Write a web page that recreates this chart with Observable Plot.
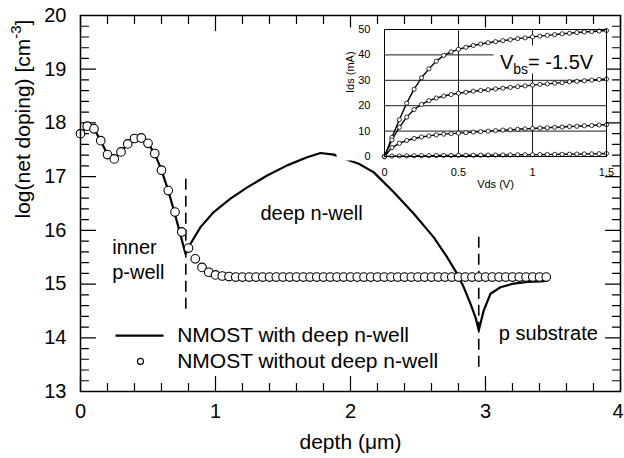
<!DOCTYPE html>
<html><head><meta charset="utf-8">
<script src="https://cdn.jsdelivr.net/npm/d3@7"></script>
<script src="https://cdn.jsdelivr.net/npm/@observablehq/plot@0.6"></script>
<style>
body{margin:0;background:#fff;}
#wrap{position:relative;width:624px;height:458px;overflow:hidden;}
#inset{position:absolute;left:336px;top:17px;}
</style></head><body><div id="wrap"></div>
<script>
// ---- main chart data ----
const depthWith = [0, 0.05, 0.1, 0.15, 0.2, 0.25, 0.3, 0.35, 0.4, 0.45, 0.5, 0.55, 0.6, 0.65, 0.7, 0.74, 0.778, 0.815, 0.889, 0.987, 1.111, 1.235, 1.383, 1.531, 1.679, 1.778, 1.876, 1.96, 2.061, 2.173, 2.321, 2.469, 2.617, 2.716, 2.79, 2.839, 2.889, 2.926, 2.95, 2.987, 3.037, 3.111, 3.21, 3.309, 3.407, 3.45];
const dopingWith = [17.80, 17.94, 17.89, 17.67, 17.41, 17.33, 17.46, 17.61, 17.71, 17.72, 17.62, 17.43, 17.12, 16.74, 16.30, 15.92, 15.56, 15.75, 16.06, 16.34, 16.59, 16.80, 17.02, 17.21, 17.36, 17.44, 17.41, 17.33, 17.24, 17.08, 16.71, 16.31, 15.87, 15.50, 15.19, 14.94, 14.63, 14.38, 14.14, 14.51, 14.82, 14.94, 15.01, 15.04, 15.05, 15.06];
const depthWithout = [0, 0.05, 0.1, 0.15, 0.2, 0.25, 0.3, 0.35, 0.4, 0.45, 0.5, 0.55, 0.6, 0.65, 0.7, 0.75, 0.8, 0.85, 0.9, 0.95, 1, 1.05, 1.1, 1.15, 1.2, 1.25, 1.3, 1.35, 1.4, 1.45, 1.5, 1.55, 1.6, 1.65, 1.7, 1.75, 1.8, 1.85, 1.9, 1.95, 2, 2.05, 2.1, 2.15, 2.2, 2.25, 2.3, 2.35, 2.4, 2.45, 2.5, 2.55, 2.6, 2.65, 2.7, 2.75, 2.8, 2.85, 2.9, 2.95, 3, 3.05, 3.1, 3.15, 3.2, 3.25, 3.3, 3.35, 3.4, 3.45];
const dopingWithout = [17.80, 17.94, 17.89, 17.67, 17.41, 17.33, 17.46, 17.61, 17.71, 17.72, 17.62, 17.43, 17.12, 16.74, 16.34, 15.97, 15.67, 15.47, 15.31, 15.22, 15.17, 15.15, 15.14, 15.13, 15.13, 15.13, 15.13, 15.13, 15.13, 15.13, 15.13, 15.13, 15.13, 15.13, 15.13, 15.13, 15.13, 15.13, 15.13, 15.13, 15.13, 15.13, 15.13, 15.13, 15.13, 15.13, 15.13, 15.13, 15.13, 15.13, 15.13, 15.13, 15.13, 15.13, 15.13, 15.13, 15.13, 15.13, 15.13, 15.13, 15.13, 15.13, 15.13, 15.13, 15.13, 15.13, 15.13, 15.13, 15.13, 15.13];
const junctionDepth = [0.78, 2.95];
const junctionLow = [14.53, 13.45];
const junctionHigh = [17.05, 15.9];
const xMajor = [0, 1, 2, 3];
const xLast = [4];
const xMinor = [0.2, 0.4, 0.6, 0.8, 1.2, 1.4, 1.6, 1.8, 2.2, 2.4, 2.6, 2.8, 3.2, 3.4, 3.6, 3.8];
const yMajor = [13, 14, 15, 16, 17, 18, 19, 20];
const yMinor = [13.2, 13.4, 13.6, 13.8, 14.2, 14.4, 14.6, 14.8, 15.2, 15.4, 15.6, 15.8, 16.2, 16.4, 16.6, 16.8, 17.2, 17.4, 17.6, 17.8, 18.2, 18.4, 18.6, 18.8, 19.2, 19.4, 19.6, 19.8];
const legendLabels = ["NMOST with deep n-well", "NMOST without deep n-well"];
const xLabel = "depth (\u03bcm)";
const yLabel = "log(net doping) [cm-3]";

// ---- inset data ----
const vds = [0, 0.05, 0.1, 0.15, 0.2, 0.25, 0.3, 0.35, 0.4, 0.45, 0.5, 0.55, 0.6, 0.65, 0.7, 0.75, 0.8, 0.85, 0.9, 0.95, 1, 1.05, 1.1, 1.15, 1.2, 1.25, 1.3, 1.35, 1.4, 1.45, 1.5];
const ids1 = [0, 7.5, 14.5, 21, 26.5, 31, 34.5, 37.5, 39.8, 41.2, 42.2, 43, 43.7, 44.3, 44.8, 45.2, 45.6, 46, 46.4, 46.7, 47.1, 47.4, 47.7, 48, 48.3, 48.5, 48.8, 49, 49.2, 49.4, 49.6];
const ids2 = [0, 6.5, 11.5, 15.5, 18.5, 20.5, 22, 23, 23.8, 24.4, 24.9, 25.3, 25.7, 26, 26.3, 26.6, 26.9, 27.2, 27.5, 27.8, 28.1, 28.4, 28.6, 28.9, 29.1, 29.4, 29.6, 29.8, 30.1, 30.3, 30.5];
const ids3 = [0, 3.5, 5.2, 6.3, 7.1, 7.7, 8.1, 8.5, 8.8, 9.0, 9.2, 9.4, 9.6, 9.8, 10.0, 10.2, 10.4, 10.5, 10.7, 10.9, 11.0, 11.2, 11.3, 11.5, 11.6, 11.8, 11.9, 12.1, 12.2, 12.4, 12.5];
const ids4 = [0, 0.15, 0.2, 0.25, 0.3, 0.32, 0.35, 0.38, 0.4, 0.42, 0.45, 0.48, 0.5, 0.52, 0.55, 0.58, 0.6, 0.63, 0.66, 0.69, 0.72, 0.75, 0.78, 0.82, 0.86, 0.9, 0.95, 1.0, 1.05, 1.1, 1.2];
const insetXTicks = [0, 0.5, 1, 1.5];
const insetYTicks = [0, 10, 20, 30, 40, 50];
const insetGridX = [0.5, 1];
const insetGridY = [10, 20, 30, 40];
const insetXLabel = "Vds (V)";
const insetYLabel = "Ids (mA)";
const biasLabel = "Vbs= -1.5V";

const font = '"Liberation Sans", Arial, Helvetica, sans-serif';
const fmt = d => String(d);
const xDomain = [0, 4], yDomain = [13, 20];

const withRows = depthWith.map((d, i) => ({depth: d, doping: dopingWith[i]}));
const withoutRows = depthWithout.map((d, i) => ({depth: d, doping: dopingWithout[i]}));
const junctionRows = junctionDepth.map((d, i) => ({depth: d, lo: junctionLow[i], hi: junctionHigh[i]}));
const xTicksAll = xMajor.concat(xLast);

// a plain straight stroke as vector shape (no arrow head)
const stick = {draw(context, l) { context.moveTo(0, 0); context.lineTo(0, -l); }};

// inward ticks drawn as vectors anchored on each side of the frame
function sideTicks(ticksX, ticksY, size) {
  const s = {stroke: "black", strokeWidth: 1.2, length: size, anchor: "start", shape: stick};
  return [
    Plot.vector(ticksX, {x: d => d, y: () => yDomain[0], rotate: 0, ...s}),
    Plot.vector(ticksX, {x: d => d, y: () => yDomain[1], rotate: 180, ...s}),
    Plot.vector(ticksY, {y: d => d, x: () => xDomain[0], rotate: 90, ...s}),
    Plot.vector(ticksY, {y: d => d, x: () => xDomain[1], rotate: 270, ...s})
  ];
}

const main = Plot.plot({
  width: 624, height: 458,
  marginLeft: 80, marginRight: 4, marginTop: 15, marginBottom: 67,
  x: {domain: xDomain, axis: null},
  y: {domain: yDomain, axis: null},
  style: {fontFamily: font, fontSize: "20px", background: "white", color: "black"},
  marks: [
    ...sideTicks(xMinor, yMinor, 8),
    ...sideTicks(xTicksAll, yMajor, 15),
    Plot.ruleX(junctionRows, {x: "depth", y1: "lo", y2: "hi", stroke: "black", strokeWidth: 1.6, strokeDasharray: "11,6"}),
    Plot.line(withRows, {x: "depth", y: "doping", stroke: "black", strokeWidth: 2.2}),
    Plot.dot(withoutRows, {x: "depth", y: "doping", r: 4.3, fill: "white", stroke: "black", strokeWidth: 1.1}),
    Plot.text(["inner"], {x: 0.235, y: 15.68, textAnchor: "start", fontSize: 20}),
    Plot.text(["p-well"], {x: 0.235, y: 15.22, textAnchor: "start", fontSize: 20}),
    Plot.text(["deep n-well"], {x: 1.333, y: 16.31, textAnchor: "start", fontSize: 20}),
    Plot.text(["p substrate"], {x: 3.099, y: 14.08, textAnchor: "start", fontSize: 20}),
    // legend
    Plot.link([legendLabels[0]], {x1: 0.259, x2: 0.615, y1: 14.04, y2: 14.04, stroke: "black", strokeWidth: 2.2}),
    Plot.dot([legendLabels[1]], {x: 0.444, y: 13.56, r: 3, fill: "white", stroke: "black", strokeWidth: 1.1}),
    Plot.text(legendLabels, {x: 0.716, y: (d, i) => [14.04, 13.56][i], textAnchor: "start", fontSize: 21}),
    // tick labels
    Plot.axisX(xMajor, {anchor: "bottom", tickSize: 0, tickPadding: 12, fontSize: 20, label: null, tickFormat: fmt}),
    Plot.axisX(xLast, {anchor: "bottom", tickSize: 0, tickPadding: 12, fontSize: 20, label: null, tickFormat: fmt, textAnchor: "end", dx: 3}),
    Plot.axisY(yMajor, {anchor: "left", tickSize: 0, tickPadding: 14, fontSize: 20, label: null, tickFormat: fmt}),
    Plot.text([xLabel], {frameAnchor: "bottom", dy: 57, fontSize: 21}),
    Plot.text([yLabel], {frameAnchor: "left", rotate: -90, dx: -57, dy: 15, fontSize: 21}),
    Plot.frame({stroke: "black", strokeWidth: 1.5})
  ]
});

const ivRows = [];
[ids1, ids2, ids3, ids4].forEach((s, k) => vds.forEach((v, i) => ivRows.push({v, i: s[i], s: k})));

const inset = Plot.plot({
  width: 280, height: 180,
  marginLeft: 48, marginTop: 12, marginRight: 10, marginBottom: 41,
  x: {domain: [0, 1.5], axis: null},
  y: {domain: [0, 50], axis: null},
  style: {fontFamily: font, fontSize: "11px", background: "transparent", color: "black"},
  marks: [
    Plot.frame({fill: "white", stroke: null, insetLeft: -48, insetTop: -2, insetBottom: -4}),
    Plot.ruleY(insetGridY, {stroke: "black", strokeWidth: 0.9}),
    Plot.ruleX(insetGridX, {stroke: "black", strokeWidth: 0.9}),
    Plot.rect([biasLabel], {x1: 0.74, x2: 1.5, y1: 32.5, y2: 43.5, fill: "white"}),
    Plot.line(ivRows, {x: "v", y: "i", z: "s", stroke: "black", strokeWidth: 1.4}),
    Plot.dot(ivRows, {x: "v", y: "i", r: 2.1, fill: "white", stroke: "black", strokeWidth: 0.8}),
    Plot.frame({stroke: "black", strokeWidth: 1}),
    Plot.axisX(insetXTicks, {anchor: "bottom", tickSize: 0, tickPadding: 12, fontSize: 11, label: null, tickFormat: fmt}),
    Plot.axisY(insetYTicks, {anchor: "left", tickSize: 0, tickPadding: 14, fontSize: 11, label: null, tickFormat: fmt}),
    Plot.text([insetYLabel], {frameAnchor: "left", rotate: -90, dx: -34, fontSize: 11}),
    Plot.text([insetXLabel], {frameAnchor: "bottom", dy: 31, fontSize: 11}),
    Plot.text([biasLabel], {x: 0.78, y: 37, textAnchor: "start", fontSize: 20})
  ]
});
inset.id = "inset";

// rich text: superscript / subscript
const NS = "http://www.w3.org/2000/svg";
function richText(svg, plain, parts) {
  svg.querySelectorAll("text").forEach(t => {
    if (t.textContent !== plain) return;
    while (t.firstChild) t.removeChild(t.firstChild);
    parts.forEach(p => {
      const ts = document.createElementNS(NS, "tspan");
      ts.textContent = p.t;
      if (p.dy) ts.setAttribute("dy", p.dy);
      if (p.fs) ts.setAttribute("font-size", p.fs);
      t.appendChild(ts);
    });
  });
}
richText(main, yLabel, [{t: "log(net doping) [cm"}, {t: "-3", dy: -9, fs: 15}, {t: "]", dy: 9}]);
richText(inset, biasLabel, [{t: "V"}, {t: "bs", dy: 5, fs: 14}, {t: "= -1.5V", dy: -5}]);

const wrap = document.getElementById("wrap");
wrap.appendChild(main);
wrap.appendChild(inset);
</script></body></html>
